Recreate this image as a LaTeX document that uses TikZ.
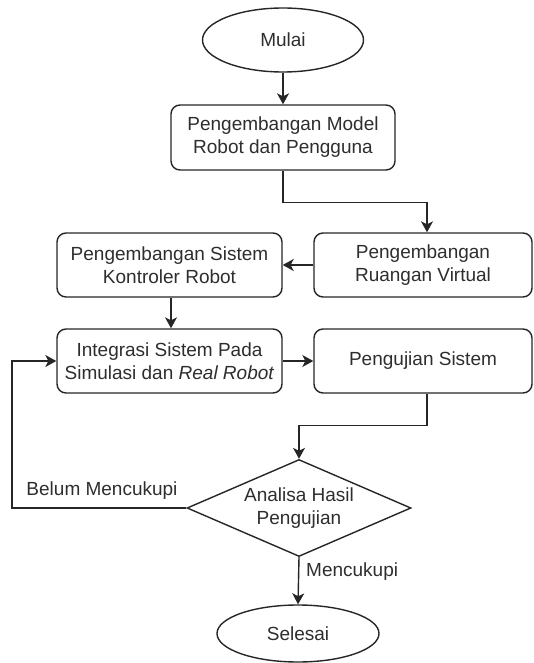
\documentclass[tikz,border=0pt]{standalone}
\usepackage{fontspec}
\setmainfont{Liberation Sans}
\usetikzlibrary{shapes.geometric,arrows.meta}
\begin{document}
\begin{tikzpicture}[x=1pt,y=-1pt,
  every node/.style={font=\fontsize{19}{23}\selectfont, text=black!82},
  line/.style={draw=black!85, line width=1.4pt},
  arr/.style={line, -{Stealth[length=11pt,width=12pt,inset=3pt]}},
  procbox/.style={line, rounded corners=9pt, fill=white, align=center,
    inner sep=0pt, minimum height=64pt},
  terminal/.style={line, ellipse, fill=white, inner sep=0pt},
  decision/.style={line, diamond, fill=white, align=center, inner sep=0pt,
    shape aspect=2.3, minimum width=224pt, minimum height=97pt},
  lbl/.style={inner sep=0pt}
]
\useasboundingbox (0,0) rectangle (533,663);

% nodes
\node[terminal, minimum width=161pt, minimum height=64pt] (mulai) at (283,40) {Mulai};
\node[procbox, minimum width=224pt, minimum height=65pt] (model) at (283,137.5)
  {Pengembangan Model\\Robot dan Pengguna};
\node[procbox, minimum width=218pt] (ruang) at (423,265)
  {Pengembangan\\Ruangan Virtual};
\node[procbox, minimum width=225pt] (kontrol) at (169.5,265)
  {Pengembangan Sistem\\Kontroler Robot};
\node[procbox, minimum width=225pt] (integrasi) at (169.5,361)
  {Integrasi Sistem Pada\\Simulasi dan \textit{Real Robot}};
\node[procbox, minimum width=218pt] (uji) at (423,361) {Pengujian Sistem};
\node[decision] (analisa) at (299,508) {Analisa Hasil\\Pengujian};
\node[terminal, minimum width=162pt, minimum height=57pt] (selesai) at (298,633.5) {Selesai};
\coordinate (loop) at (12,508);

% connectors
\draw[arr] (mulai) -- (model);
\draw[arr] (model.south) -- ++(0,32) -| ([xshift=4pt]ruang.north);
\draw[arr] (ruang) -- (kontrol);
\draw[arr] ([xshift=1.5pt]kontrol.south) -- ([xshift=1.5pt]integrasi.north);
\draw[arr] (integrasi) -- (uji);
\draw[arr] ([xshift=4pt]uji.south) -- ++(0,32) -| (analisa.north);
\draw[arr] (analisa.west) -- (loop) |- (integrasi.west);
\draw[arr] (analisa.south) -- (selesai.north);

% branch labels
\node[lbl] (belum) at (102,491) {Belum Mencukupi};
\node[lbl, anchor=west] (cukup) at (306,572) {Mencukupi};
\end{tikzpicture}
\end{document}
